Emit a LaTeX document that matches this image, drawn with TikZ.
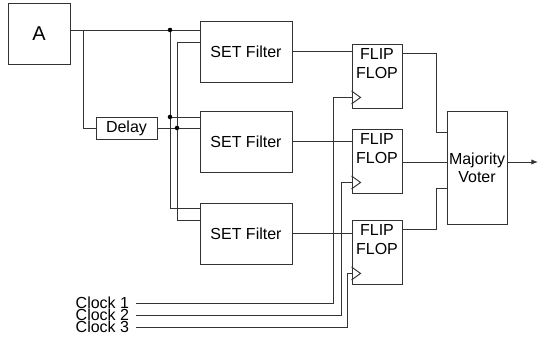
\documentclass[tikz,border=0pt]{standalone}
\usepackage{fontspec}
\setmainfont{Liberation Sans}
\usetikzlibrary{arrows.meta, calc}
\definecolor{wire}{HTML}{333333}

\tikzset{
  block/.style={draw=wire, line width=0.7pt, inner sep=0pt, align=center,
                font=\fontsize{12}{13.5}\selectfont},
  wireline/.style={draw=wire, line width=0.7pt},
  junction/.style={fill=black},
}

\begin{document}
\begin{tikzpicture}[x=0.75pt, y=-0.75pt]
  \useasboundingbox (0,0) rectangle (539,341);
  % source and delay
  \node[block, minimum width=46.5pt, minimum height=45.75pt,
        font=\fontsize{15}{18}\selectfont] (srcA) at (39,33.5) {A};
  \node[block, minimum width=45.75pt, minimum height=16.5pt] (delay) at (126.5,128) {Delay};
  % filters
  \foreach \i/\y in {1/51.5, 2/141.5, 3/233.5}
    \node[block, minimum width=69pt, minimum height=45.75pt] (filt\i) at (246,\y) {SET Filter};
  % flip flops with clock marks
  \foreach \i/\y in {1/76, 2/161, 3/252} {
    \node[block, minimum width=37.5pt, minimum height=48pt] (ff\i) at (377,\y) {};
    \node[align=center, inner sep=0pt, font=\fontsize{12}{14.25}\selectfont]
      (fftxt\i) at (377,\y-12) {FLIP\\FLOP};
    \draw[wireline] ($(ff\i.south west)+(0,-17.5)$) -- ++(9,6.5) -- ++(-9,6.5);
  }
  \node[block, minimum width=45pt, minimum height=84.75pt] (voter) at (477,167.5) {Majority\\Voter};
  % clock inputs
  \foreach \i/\y in {1/303, 2/315, 3/327}
    \node[anchor=east, inner xsep=5pt, inner ysep=0pt, font=\fontsize{12}{13.5}\selectfont]
      (clk\i) at (136,\y) {Clock \i};

  % wiring
  \coordinate (aout) at (70,30);
  \coordinate (tap) at (83,30);
  \coordinate (j1) at (170,30);
  \coordinate (j2) at (170,117);
  \coordinate (j3) at (177,128);
  \coordinate (busb) at (177,42);
  \coordinate (f3a) at (170,208);
  \coordinate (f3b) at (177,220);
  \draw[wireline] (aout) -- (aout -| filt1.west);
  \draw[wireline] (tap) |- (delay.west);
  \draw[wireline] (j1) -- (f3a) -- (f3a -| filt3.west);
  \draw[wireline] (j2) -- (j2 -| filt2.west);
  \draw[wireline] (delay.east) -- (delay.east -| filt2.west);
  \draw[wireline] (busb -| filt1.west) -- (busb) -- (f3b) -- (f3b -| filt3.west);
  \foreach \p in {j1, j2, j3}
    \fill[junction] (\p) circle[radius=1.7pt];
  \foreach \i in {1,2,3}
    \draw[wireline] (filt\i.east) -- (filt\i.east -| ff\i.west);

  \coordinate (v1) at (436,132);
  \coordinate (v2) at (402,162);
  \coordinate (v3) at (436,188);
  \draw[wireline] ($(ff1.north east)+(0,10)$) -| (v1) -- (v1 -| voter.west);
  \draw[wireline] (v2) -- (v2 -| voter.west);
  \draw[wireline] ($(ff3.north east)+(0,10)$) -| (v3) -- (v3 -| voter.west);
  \coordinate (vout) at (538,162);
  \draw[wireline, -{Latex[length=5pt, width=4pt]}] (vout -| voter.east) -- (vout);

  \coordinate (ck1) at (333,97);
  \coordinate (ck2) at (341,182);
  \coordinate (ck3) at (347,273);
  \foreach \i in {1,2,3}
    \draw[wireline] (clk\i.east) -| (ck\i) -- (ck\i -| ff\i.west);
\end{tikzpicture}
\end{document}
